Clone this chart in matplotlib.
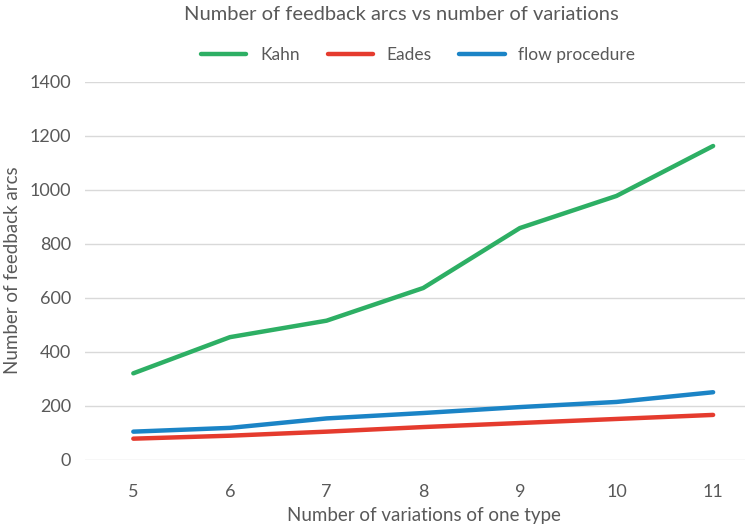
import matplotlib.pyplot as plt

variations = [5, 6, 7, 8, 9, 10, 11]
kahn = [321, 455, 516, 637, 859, 978, 1163]
eades = [79, 90, 105, 122, 137, 152, 167]
flow = [105, 119, 154, 174, 196, 215, 251]

plt.rcParams['font.family'] = ['Lato', 'DejaVu Sans']
txt = '#595959'

fig = plt.figure(figsize=(7.5, 5.28), dpi=100)
ax = fig.add_axes([85/750, 1 - 460/528, 660/750, (460 - 82)/528])

ax.plot(variations, kahn, color='#2DAF64', lw=3.2, label='Kahn', solid_capstyle='round')
ax.plot(variations, eades, color='#E53B2E', lw=3.2, label='Eades', solid_capstyle='round')
ax.plot(variations, flow, color='#1B84C6', lw=3.2, label='flow procedure', solid_capstyle='round')

ax.set_xlim(4.5, 11.33)
ax.set_ylim(0, 1400)
ax.set_yticks(range(0, 1401, 200))
ax.set_xticks(variations)
ax.grid(axis='y', color='#D9D9D9', lw=1)
ax.set_axisbelow(True)
for s in ax.spines.values():
    s.set_visible(False)
ax.tick_params(length=0, colors=txt, labelsize=13, pad=17)
ax.tick_params(axis='y', pad=10)

fig.text(0.565, 1 - 516/528, 'Number of variations of one type', ha='center', va='center',
         color=txt, fontsize=13.5)
fig.text(13/750, 1 - 270/528, 'Number of feedback arcs', rotation=90, ha='center', va='center',
         color=txt, fontsize=13.5)
fig.text(0.535, 0.972, 'Number of feedback arcs vs number of variations', ha='center', va='center',
         color=txt, fontsize=14.5)
ax.legend(loc='center', bbox_to_anchor=(0.505, 1.072), ncol=3, frameon=False, fontsize=12.5,
          labelcolor=txt, handlelength=2.6, columnspacing=1.6)

fig.savefig('out.png', dpi=100)
